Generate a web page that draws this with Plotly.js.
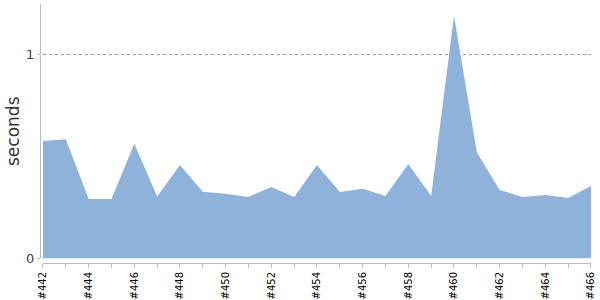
<!DOCTYPE html>
<html><head><meta charset="utf-8">
<script src="https://cdn.plot.ly/plotly-3.0.1.min.js"></script>
<style>html,body{margin:0;padding:0;background:#fff}#c{width:600px;height:300px}</style>
</head><body><div id="c"></div>
<script>
var builds = ["#442","#443","#444","#445","#446","#447","#448","#449","#450","#451","#452","#453","#454","#455","#456","#457","#458","#459","#460","#461","#462","#463","#464","#465","#466"];
var seconds = [0.577,0.586,0.292,0.292,0.564,0.304,0.459,0.328,0.318,0.302,0.351,0.302,0.459,0.327,0.342,0.307,0.464,0.307,1.192,0.522,0.337,0.302,0.312,0.297,0.356];
var tickLabels = builds.map(function(b,i){return i%2===0?b:'';});

var trace = {x: builds, y: seconds, type:'scatter', mode:'lines', fill:'tozeroy',
  fillcolor:'#8fb2db', line:{width:0, color:'#8fb2db'}, hoverinfo:'none'};

var layout = {
  width:600, height:300,
  margin:{l:40, r:9, t:4, b:37, pad:0},
  paper_bgcolor:'#fff', plot_bgcolor:'#fff',
  showlegend:false,
  font:{family:'DejaVu Sans, sans-serif', color:'#000'},
  xaxis:{type:'category', range:[0,24], domain:[0.0054,1], anchor:'free', position:0,
    tickmode:'array', tickvals:builds, ticktext:tickLabels, tickangle:-90,
    ticks:'outside', ticklen:4, tickcolor:'#bbb', showline:true, linecolor:'#bbb', linewidth:1,
    showgrid:false, zeroline:false, tickfont:{size:10, color:'#000'}},
  yaxis:{range:[0,1.25], domain:[0.0174,1], anchor:'free', position:0,
    tickmode:'array', tickvals:[0,1], ticks:'outside', ticklen:3, tickcolor:'#bbb',
    showline:true, linecolor:'#bbb', linewidth:1,
    showgrid:true, gridcolor:'#999', griddash:'dot', gridwidth:1, zeroline:false,
    tickfont:{size:13, color:'#444'},
    title:{text:'seconds', font:{size:17, color:'#333'}, standoff:1}}
};
Plotly.newPlot('c',[trace],layout,{staticPlot:true});
</script></body></html>
